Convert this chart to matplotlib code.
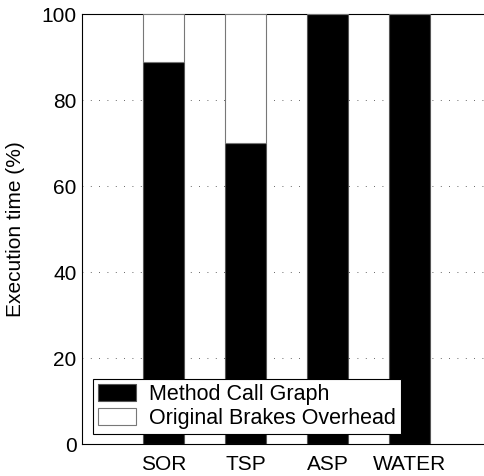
import numpy as np
import matplotlib.pyplot as plt

plt.rcParams['font.family'] = ['Liberation Sans', 'DejaVu Sans']

benchmarks = ['SOR', 'TSP', 'ASP', 'WATER']
method_call_graph = [89, 70, 100, 100]
brakes_overhead = [11, 30, 0, 0]

fig = plt.figure(figsize=(4.85, 4.76), dpi=100)
ax = fig.add_axes([82 / 485, 31.7 / 476, 409.5 / 485, 430 / 476])

x = np.arange(1, len(benchmarks) + 1)
ax.bar(x, method_call_graph, width=0.5, color='black', edgecolor='#555555',
       linewidth=0.8, label='Method Call Graph', zorder=3)
ax.bar(x, brakes_overhead, width=0.5, bottom=method_call_graph, color='white',
       edgecolor='#777777', linewidth=0.8, label='Original Brakes Overhead', zorder=3)

ax.set_xlim(0, 5)
ax.set_ylim(0, 100)
ax.set_xticks(x)
ax.set_xticklabels(benchmarks, fontsize=15)
ax.set_yticks([0, 20, 40, 60, 80, 100])
ax.tick_params(axis='y', labelsize=15, length=0, pad=4)
ax.tick_params(axis='x', length=0, pad=8)
ax.yaxis.grid(True, linestyle=(0, (1, 9)), color='#333333', linewidth=0.6)
ax.set_axisbelow(True)
ax.set_ylabel('Execution time (%)', fontsize=15, labelpad=12)
ax.spines['right'].set_visible(False)
for s in ax.spines.values():
    s.set_linewidth(0.8)

leg = ax.legend(loc='lower left', fontsize=15.5, fancybox=False, framealpha=1,
                edgecolor='black', handlelength=1.8, handleheight=0.85,
                handletextpad=0.6, borderaxespad=0.5, borderpad=0.22,
                labelspacing=0.12)
leg.get_frame().set_linewidth(0.8)

fig.savefig('out.png', dpi=100)
